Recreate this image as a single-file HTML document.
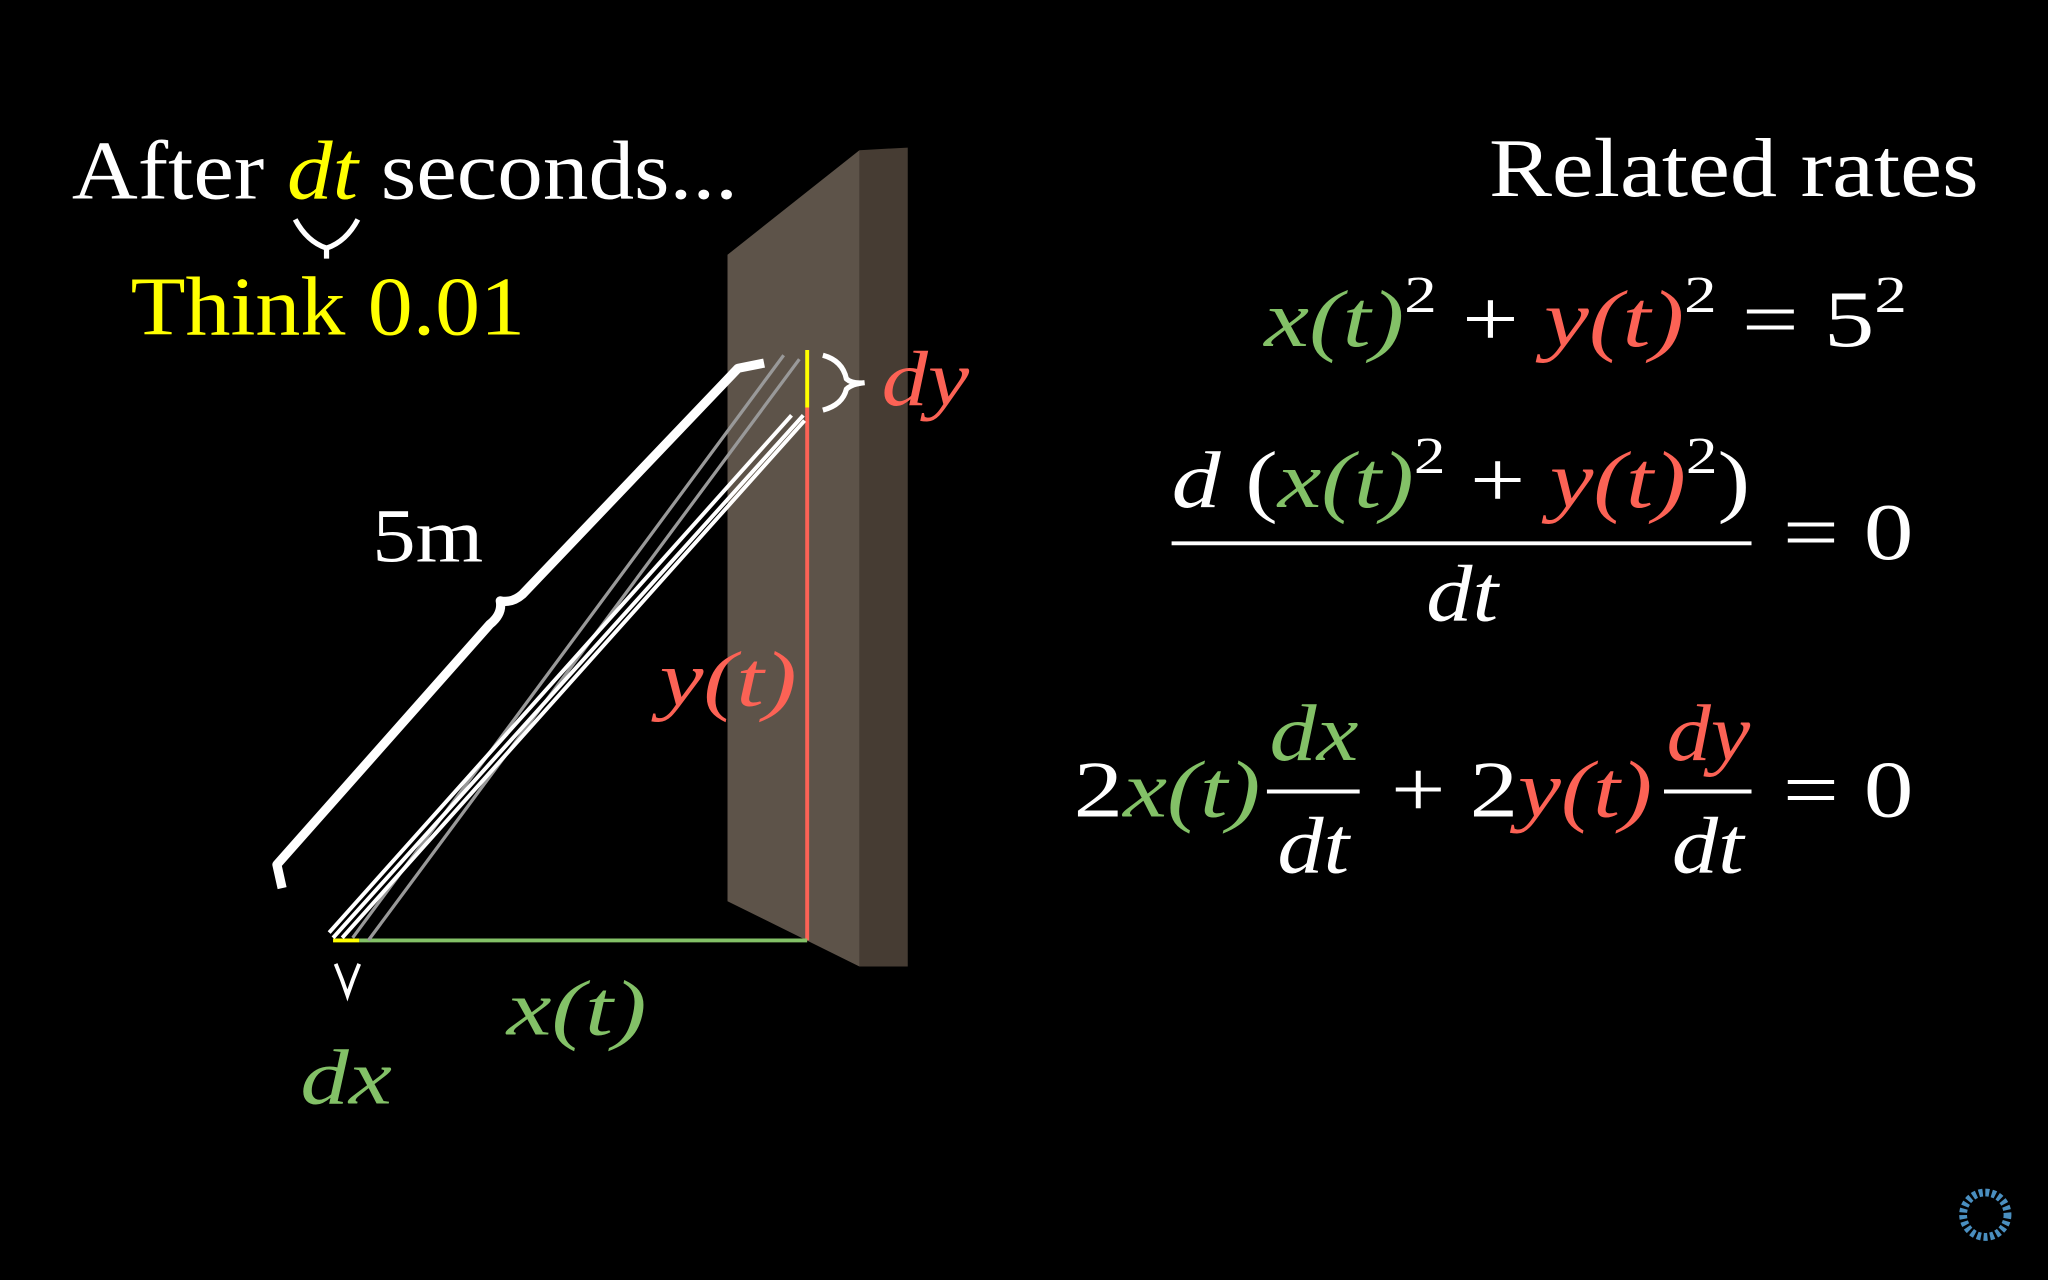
<!DOCTYPE html>
<html><head><meta charset="utf-8"><style>
html,body{margin:0;padding:0;background:#000;width:2048px;height:1280px;overflow:hidden}
svg{display:block}
text{font-family:"Liberation Serif",serif}
.i{font-style:italic}
</style></head><body>
<svg width="2048" height="1280" viewBox="0 0 1568 980" xmlns="http://www.w3.org/2000/svg">
<rect width="1568" height="980" fill="#000"/>
<polygon points="658,115 695,113 695,740 658,740" fill="#463c33"/>
<polygon points="557,195 658,115 658,740 557,690" fill="#5d5349"/>
<line x1="618" y1="312" x2="618" y2="720" stroke="#fc6255" stroke-width="3"/>
<line x1="618" y1="268" x2="618" y2="312" stroke="#ffff00" stroke-width="3"/>
<line x1="275" y1="720" x2="618" y2="720" stroke="#83c167" stroke-width="3"/>
<line x1="255" y1="720" x2="275" y2="720" stroke="#ffff00" stroke-width="3"/>
<g stroke="#999" stroke-width="2.5" fill="none">
<line x1="270" y1="718" x2="600" y2="272"/>
<line x1="282" y1="720" x2="612" y2="275"/>
</g>
<g stroke="#fff" stroke-width="3" fill="none">
<line x1="252" y1="714" x2="606" y2="318"/>
<line x1="262" y1="718" x2="616" y2="322"/>
<line x1="255" y1="718" x2="615" y2="318"/>
</g>
<path d="M216,680 L212,662 L375,478 Q385,470 383,460 Q392,462 400,455 L565,282 L585,278" stroke="#fff" stroke-width="7" fill="none" stroke-linejoin="round"/>
<text x="55" y="152" font-size="64" fill="#fff" textLength="510" lengthAdjust="spacingAndGlyphs">After <tspan class="i" fill="#ffff00">dt</tspan> seconds...</text>
<path d="M226,168 Q235,185 250,190 Q265,185 274,168 M250,190 L250,198" stroke="#fff" stroke-width="4" fill="none"/>
<text x="100" y="256" font-size="64" fill="#ffff00" textLength="302" lengthAdjust="spacingAndGlyphs">Think 0.01</text>
<text x="285" y="430" font-size="58" fill="#fff" textLength="85" lengthAdjust="spacingAndGlyphs">5m</text>
<text x="505" y="540" font-size="60" fill="#fc6255" class="i" textLength="105" lengthAdjust="spacingAndGlyphs">y(t)</text>
<text x="388" y="792" font-size="60" fill="#83c167" class="i" textLength="107" lengthAdjust="spacingAndGlyphs">x(t)</text>
<text x="230" y="845" font-size="60" fill="#83c167" class="i" textLength="70" lengthAdjust="spacingAndGlyphs">dx</text>
<path d="M257,738 Q262,750 266,762 Q270,750 275,738" stroke="#fff" stroke-width="3" fill="none"/>
<text x="675" y="310" font-size="60" fill="#fc6255" class="i" textLength="67" lengthAdjust="spacingAndGlyphs">dy</text>
<path d="M630,272 Q645,276 648,290 Q652,294 662,293 Q652,294 648,298 Q645,310 630,314" stroke="#fff" stroke-width="4" fill="none"/>
<text x="1140" y="150" font-size="64" fill="#fff" textLength="375" lengthAdjust="spacingAndGlyphs">Related rates</text>
<text x="968" y="265" font-size="62" fill="#fff" textLength="492" lengthAdjust="spacingAndGlyphs"><tspan class="i" fill="#83c167">x(t)</tspan><tspan font-size="40" dy="-26">2</tspan><tspan dy="26"> + </tspan><tspan class="i" fill="#fc6255">y(t)</tspan><tspan font-size="40" dy="-26">2</tspan><tspan dy="26"> = 5</tspan><tspan font-size="40" dy="-26">2</tspan></text>
<text x="897" y="388" font-size="62" fill="#fff" textLength="443" lengthAdjust="spacingAndGlyphs"><tspan class="i">d</tspan> (<tspan class="i" fill="#83c167">x(t)</tspan><tspan font-size="40" dy="-26">2</tspan><tspan dy="26"> + </tspan><tspan class="i" fill="#fc6255">y(t)</tspan><tspan font-size="40" dy="-26">2</tspan><tspan dy="26">)</tspan></text>
<line x1="897" y1="416" x2="1341" y2="416" stroke="#fff" stroke-width="3"/>
<text x="1092" y="475" font-size="62" fill="#fff" class="i" textLength="55" lengthAdjust="spacingAndGlyphs">dt</text>
<text x="1365" y="428" font-size="62" fill="#fff" textLength="100" lengthAdjust="spacingAndGlyphs">= 0</text>
<text x="822" y="625" font-size="62" fill="#fff" textLength="143" lengthAdjust="spacingAndGlyphs">2<tspan class="i" fill="#83c167">x(t)</tspan></text>
<text x="972" y="582" font-size="62" fill="#83c167" class="i" textLength="68" lengthAdjust="spacingAndGlyphs">dx</text>
<line x1="970" y1="606" x2="1041" y2="606" stroke="#fff" stroke-width="3"/>
<text x="978" y="668" font-size="62" fill="#fff" class="i" textLength="55" lengthAdjust="spacingAndGlyphs">dt</text>
<text x="1065" y="625" font-size="62" fill="#fff" textLength="200" lengthAdjust="spacingAndGlyphs">+ 2<tspan class="i" fill="#fc6255">y(t)</tspan></text>
<text x="1276" y="582" font-size="62" fill="#fc6255" class="i" textLength="64" lengthAdjust="spacingAndGlyphs">dy</text>
<line x1="1274" y1="606" x2="1341" y2="606" stroke="#fff" stroke-width="3"/>
<text x="1280" y="668" font-size="62" fill="#fff" class="i" textLength="55" lengthAdjust="spacingAndGlyphs">dt</text>
<text x="1365" y="625" font-size="62" fill="#fff" textLength="100" lengthAdjust="spacingAndGlyphs">= 0</text>
<circle cx="1520" cy="930" r="17" fill="none" stroke="#4a8fc0" stroke-width="6" stroke-dasharray="3 2"/>
</svg>
</body></html>
